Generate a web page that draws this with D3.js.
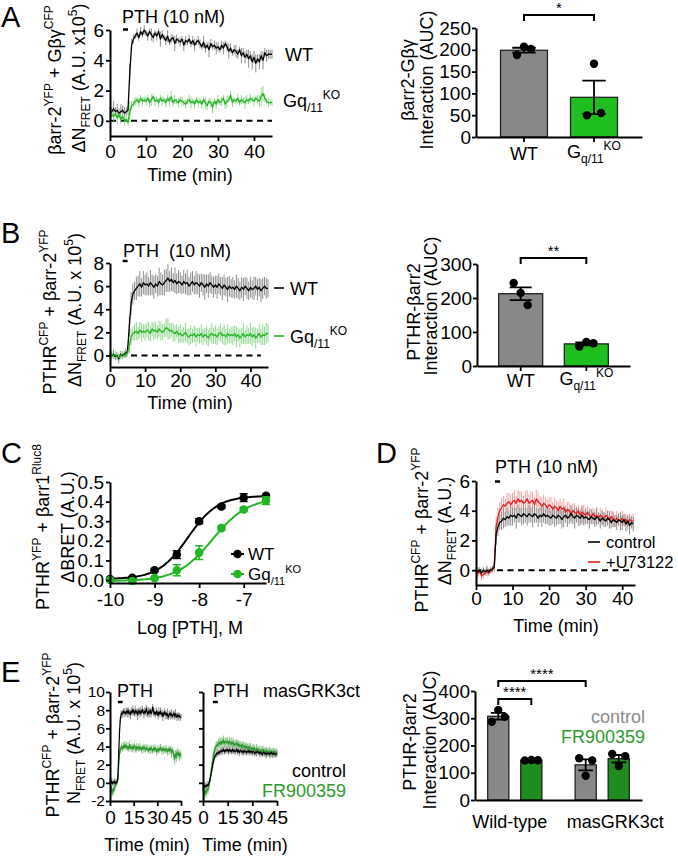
<!DOCTYPE html>
<html><head><meta charset="utf-8">
<script src="https://cdn.jsdelivr.net/npm/d3@7"></script>
<style>
body{margin:0;background:#fff}
svg{display:block;font-family:'Liberation Sans',Arial,Helvetica,sans-serif}
text{white-space:pre}
</style></head><body><svg id="fig" width="678" height="860"></svg>
<script>
// ---------------- DATA ----------------
const STEP = 0.5; // minutes between samples in all kinetic traces

// Panel A: barr-2 / Gbg FRET (x1e5)
const aWT = [
0.5,0.6,0.8,0.6,0.7,0.5,0.6,0.7,0.5,0.6,
0.7,3.2,5.0,5.4,5.6,5.8,5.5,5.9,5.7,6.0,
5.8,5.6,5.9,5.7,5.5,5.8,5.6,5.9,5.4,5.7,
5.5,5.3,5.6,5.2,5.4,5.5,5.1,5.4,5.3,5.2,
5.4,5.0,5.3,5.2,5.4,5.1,5.3,5.0,5.2,5.3,
5.1,4.9,5.2,4.8,5.0,4.7,5.1,4.9,5.0,4.8,
4.9,4.7,5.0,4.8,5.1,4.9,4.6,4.8,4.5,4.7,
4.6,4.4,4.7,4.3,4.5,4.2,4.4,4.1,4.3,3.9,
4.2,3.8,4.1,3.9,4.3,4.0,4.5,4.3,4.4,4.4,
4.4];
const aWTsem = [
0.4,0.3,0.5,0.3,0.4,0.3,0.5,0.3,0.4,0.3,
0.3,0.6,0.4,0.3,0.2,0.3,0.2,0.3,0.2,0.3,
0.2,0.3,0.2,0.4,0.3,0.2,0.3,0.2,0.5,0.3,
0.2,0.3,0.4,0.2,0.3,0.2,0.5,0.3,0.2,0.3,
0.2,0.4,0.3,0.2,0.3,0.2,0.3,0.4,0.2,0.3,
0.3,0.2,0.4,0.3,0.2,0.5,0.3,0.2,0.3,0.4,
0.3,0.2,0.3,0.4,0.2,0.3,0.5,0.3,0.2,0.3,
0.4,0.3,0.2,0.5,0.3,0.4,0.3,0.6,0.3,0.5,
0.4,0.6,0.3,0.5,0.3,0.6,0.3,0.4,0.3,0.3,
0.3];
const aGq = [
0.2,0.4,0.3,0.5,0.2,0.4,0.1,0.3,0.0,0.1,
-0.1,0.6,1.0,1.1,1.3,1.4,1.2,1.5,1.3,1.4,
1.3,1.5,1.2,1.4,1.6,1.3,1.4,1.2,1.5,1.3,
1.4,1.2,1.5,1.3,1.6,1.2,1.4,1.3,1.2,1.4,
1.3,1.2,1.1,1.3,1.4,1.2,1.3,1.1,1.4,1.2,
1.3,1.1,1.4,1.2,1.0,1.3,1.2,0.9,1.3,1.1,
1.4,1.2,1.3,1.5,1.1,1.3,1.4,1.7,1.2,1.4,
1.3,1.5,1.2,1.4,1.3,1.2,1.4,1.3,1.5,1.4,
1.3,1.5,1.4,1.3,1.6,1.8,1.5,1.3,1.2,1.2,
1.2];
const aGqSem = [
0.3,0.2,0.3,0.2,0.4,0.2,0.3,0.2,0.3,0.2,
0.2,0.7,0.3,0.2,0.3,0.2,0.3,0.2,0.3,0.2,
0.3,0.2,0.3,0.4,0.2,0.3,0.2,0.3,0.2,0.3,
0.2,0.3,0.2,0.3,0.4,0.2,0.3,0.2,0.3,0.2,
0.3,0.2,0.3,0.2,0.3,0.4,0.2,0.3,0.2,0.3,
0.2,0.3,0.2,0.4,0.3,0.2,0.3,0.4,0.2,0.3,
0.3,0.2,0.3,0.2,0.3,0.4,0.2,0.3,0.3,0.2,
0.2,0.3,0.2,0.3,0.2,0.4,0.3,0.2,0.3,0.2,
0.3,0.2,0.3,0.4,0.6,0.5,0.3,0.2,0.3,0.2,
0.2];

// Panel B: PTHR / barr-2 FRET (x1e5)
const bWT = [
0.1,0.0,0.1,-0.1,0.0,-0.3,0.1,0.0,0.1,0.2,
0.4,2.5,4.5,5.3,5.6,5.8,6.0,6.2,5.9,6.3,
6.1,6.2,6.0,6.3,6.1,5.9,6.2,6.0,6.4,6.2,
6.1,6.3,6.5,6.7,6.4,6.6,6.3,6.5,6.2,6.4,
6.3,6.1,6.4,6.2,6.3,6.0,6.2,6.4,6.1,6.3,
6.2,6.0,6.3,6.1,5.9,6.2,6.0,6.3,6.1,5.9,
6.1,5.9,6.2,6.0,5.8,6.1,5.9,5.7,6.0,5.8,
5.9,5.7,6.0,5.8,5.6,5.9,5.7,6.0,5.8,5.6,
5.9,5.7,5.8,6.0,5.7,5.9,5.6,5.8,6.0,5.8,
5.8];
const bWTsem = [
0.3,0.3,0.4,0.3,0.3,0.4,0.3,0.3,0.3,0.4,
0.4,0.9,1.0,0.9,0.8,1.0,0.9,1.1,0.8,1.0,
0.9,1.0,0.8,1.1,0.9,1.0,0.8,0.9,1.2,1.0,
0.9,1.1,1.0,1.2,0.9,1.0,0.8,1.1,0.9,1.0,
0.9,0.8,1.0,0.9,1.1,0.8,1.0,0.9,0.8,1.0,
0.9,1.0,0.8,0.9,1.1,0.8,1.0,0.9,0.8,0.9,
0.8,1.0,0.9,0.8,1.0,0.9,0.8,1.1,0.9,0.8,
0.9,0.8,1.0,0.9,0.8,0.9,1.0,0.8,0.9,0.8,
0.9,0.8,1.0,0.8,0.9,0.8,1.0,0.9,0.8,0.9,
0.8];
const bGq = [
0.0,0.1,0.0,0.1,-0.1,-0.2,0.0,0.1,0.0,0.1,
0.2,0.8,1.6,1.9,2.0,2.1,1.9,2.2,2.0,2.1,
2.0,2.2,2.1,1.9,2.3,2.1,2.2,2.0,2.3,2.1,
2.0,2.2,2.4,2.3,2.1,2.2,2.0,1.9,2.1,1.8,
1.9,1.7,1.8,2.0,1.7,1.6,1.8,1.7,1.9,1.6,
1.8,1.7,1.9,1.6,1.8,1.7,1.5,1.8,1.9,1.7,
1.8,1.6,1.9,2.0,1.7,1.8,1.6,1.9,1.7,1.8,
1.7,1.9,1.6,1.8,1.5,1.7,1.9,1.6,1.8,1.7,
1.9,1.6,1.8,1.5,1.7,1.9,1.6,1.8,1.7,1.9,
1.9];
const bGqSem = [
0.3,0.3,0.2,0.3,0.3,0.2,0.3,0.3,0.2,0.3,
0.3,0.6,0.7,0.6,0.7,0.8,0.6,0.7,0.8,0.6,
0.7,0.6,0.8,0.7,0.6,0.8,0.7,0.6,0.7,0.8,
0.7,0.6,0.8,0.9,0.7,0.6,0.8,0.7,0.6,0.7,
0.8,0.6,0.7,0.8,0.6,0.7,0.8,0.6,0.7,0.8,
0.6,0.7,0.8,0.7,0.6,0.8,0.7,0.6,0.9,0.7,
0.8,0.7,0.6,0.8,0.7,0.9,0.7,0.8,0.6,0.7,
0.8,0.7,0.9,0.6,0.8,0.7,0.9,0.6,0.8,0.7,
0.9,0.8,0.7,0.9,0.6,0.8,0.7,0.9,0.8,0.9,
0.8];

// Panel A/B right: AUC bars (individual replicates)
const abCats = ['WT', 'Gq11KO'];
const aAUC = [[188, 207, 202], [50, 168, 55]];
const bAUC = [[244, 215, 179], [57, 71, 67]];

// Panel C: BRET dose-response
const cLogDose = [-10, -9.5, -9, -8.5, -8, -7.5, -7, -6.5];
const cWT    = [0.005, 0.012, 0.05, 0.13, 0.30, 0.375, 0.42, 0.43];
const cWTsem = [0.004, 0.005, 0.006, 0.02, 0.012, 0.008, 0.02, 0.006];
const cGq    = [0.0, -0.005, 0.01, 0.05, 0.14, 0.265, 0.36, 0.405];
const cGqSem = [0.004, 0.004, 0.006, 0.028, 0.035, 0.01, 0.01, 0.02];
// 4-parameter logistic fits [WT, Gq11KO]
const fitBottom = [0.005, -0.005];
const fitTop = [0.43, 0.42];
const fitLogEC50 = [-8.25, -7.7];
const fitHill = [1.3, 1.1];

// Panel D: PTHR / barr-2 FRET, control vs U73122 (0..43 min)
const dCtrl = [
0.0,-0.1,0.0,-0.2,0.0,-0.1,0.0,-0.1,0.0,0.1,
0.2,2.4,2.9,3.2,3.3,3.5,3.4,3.6,3.5,3.7,
3.6,3.7,3.5,3.8,3.7,3.6,3.8,3.7,3.6,3.8,
3.7,3.6,3.8,3.7,3.5,3.7,3.6,3.8,3.6,3.7,
3.6,3.5,3.7,3.6,3.5,3.7,3.6,3.4,3.6,3.7,
3.5,3.6,3.8,3.6,3.5,3.7,3.6,3.5,3.7,3.5,
3.6,3.5,3.4,3.6,3.5,3.4,3.6,3.5,3.3,3.5,
3.4,3.3,3.5,3.4,3.2,3.4,3.3,3.2,3.4,3.3,
3.2,3.4,3.1,3.3,3.0,3.2,3.1];
const dCtrlSem = [
0.2,0.3,0.2,0.3,0.2,0.2,0.3,0.2,0.2,0.2,
0.3,0.7,0.6,0.5,0.6,0.7,0.5,0.6,0.5,0.7,
0.6,0.5,0.7,0.6,0.5,0.6,0.7,0.5,0.6,0.6,
0.5,0.7,0.6,0.5,0.6,0.5,0.7,0.6,0.5,0.6,
0.6,0.5,0.6,0.7,0.5,0.6,0.5,0.6,0.7,0.5,
0.6,0.5,0.6,0.5,0.7,0.5,0.6,0.5,0.6,0.5,
0.5,0.4,0.6,0.5,0.4,0.5,0.6,0.4,0.5,0.5,
0.5,0.4,0.5,0.6,0.4,0.5,0.4,0.5,0.4,0.6,
0.5,0.4,0.5,0.4,0.6,0.4,0.5];
const dU73 = [
-0.1,-0.2,-0.1,-0.4,-0.3,-0.2,-0.1,-0.2,0.0,0.0,
0.3,2.9,3.6,4.0,4.2,4.4,4.3,4.5,4.6,4.4,
4.6,4.7,4.5,4.8,4.6,4.7,4.5,4.6,4.8,4.5,
4.6,4.7,4.4,4.8,4.6,4.5,4.3,4.5,4.4,4.2,
4.4,4.3,4.1,4.3,4.2,4.0,4.3,4.1,4.2,3.9,
4.1,4.0,3.8,4.0,3.9,3.8,4.0,3.7,3.9,3.8,
3.7,3.9,3.7,3.6,3.8,3.6,3.7,3.5,3.7,3.6,
3.5,3.7,3.6,3.4,3.6,3.5,3.3,3.5,3.4,3.3,
3.5,3.3,3.4,3.2,3.4,3.3,3.3];
const dU73Sem = [
0.2,0.3,0.2,0.3,0.3,0.2,0.3,0.2,0.2,0.2,
0.3,0.7,0.6,0.6,0.7,0.6,0.5,0.7,0.6,0.7,
0.6,0.7,0.5,0.6,0.7,0.6,0.5,0.7,0.6,0.6,
0.7,0.6,0.5,0.6,0.7,0.5,0.6,0.6,0.5,0.6,
0.5,0.6,0.5,0.6,0.5,0.6,0.5,0.5,0.6,0.5,
0.5,0.6,0.5,0.5,0.6,0.5,0.4,0.5,0.5,0.6,
0.5,0.4,0.5,0.5,0.4,0.5,0.5,0.4,0.5,0.5,
0.4,0.5,0.4,0.5,0.4,0.5,0.4,0.5,0.4,0.4,
0.5,0.4,0.4,0.5,0.4,0.4,0.5];

// Panel E: PTHR / barr-2 FRET (x1e5), wild-type vs masGRK3ct cells
const eWTctrl = [
0.1,0.0,0.2,-0.1,0.1,0.0,0.2,-0.1,0.0,0.1,
0.6,3.0,5.5,6.9,7.5,7.7,7.6,7.9,7.7,7.8,
7.6,7.9,7.7,8.0,7.6,7.8,7.5,7.9,7.7,8.1,
7.8,7.6,8.0,7.7,7.9,7.5,7.8,8.0,7.6,7.9,
7.7,8.1,7.8,7.6,7.9,7.7,8.2,7.8,7.5,7.9,
7.7,8.0,7.6,7.8,8.3,7.9,7.6,7.8,7.5,7.9,
7.7,7.4,7.8,7.6,7.9,7.5,7.7,7.3,7.6,7.8,
7.5,7.7,7.4,7.6,7.2,7.5,7.7,7.4,7.6,7.3,
7.5,7.7,7.3,7.6,7.4,7.2,7.5,7.3,7.4,7.2,
7.3];
const eWTctrlSem = [
0.3,0.2,0.3,0.2,0.3,0.2,0.3,0.2,0.3,0.2,
0.3,0.6,0.5,0.4,0.4,0.3,0.4,0.3,0.5,0.4,
0.3,0.4,0.5,0.3,0.4,0.3,0.5,0.4,0.3,0.4,
0.4,0.3,0.5,0.4,0.3,0.6,0.4,0.3,0.4,0.5,
0.3,0.4,0.3,0.5,0.4,0.3,0.4,0.6,0.3,0.4,
0.5,0.3,0.4,0.3,0.4,0.5,0.3,0.4,0.3,0.4,
0.3,0.4,0.5,0.3,0.4,0.3,0.4,0.5,0.3,0.4,
0.5,0.3,0.4,0.6,0.3,0.4,0.3,0.4,0.5,0.3,
0.4,0.3,0.4,0.5,0.3,0.4,0.3,0.4,0.3,0.4,
0.3];
const eWTfr = [
0.0,-0.3,-0.8,-1.1,-0.6,-0.9,-0.4,-0.2,0.0,0.1,
0.5,2.0,3.2,3.6,3.8,4.0,3.7,4.1,3.9,4.2,
3.9,4.1,3.8,4.0,3.7,4.2,3.9,3.8,4.0,3.7,
3.9,4.1,3.8,3.6,4.0,3.8,3.9,3.7,4.0,3.8,
3.6,3.9,3.7,4.0,3.8,3.6,3.9,3.7,3.8,3.5,
3.8,3.6,3.9,3.7,3.5,3.8,3.6,3.9,3.7,3.4,
3.7,3.5,3.8,3.6,3.9,3.7,3.5,3.8,3.6,3.7,
3.5,3.8,3.6,3.4,3.7,3.5,3.8,3.6,3.3,3.6,
3.4,3.0,2.6,3.2,2.8,3.4,3.1,3.3,2.9,3.2,
3.0];
const eWTfrSem = [
0.3,0.4,0.5,0.4,0.5,0.4,0.5,0.3,0.4,0.3,
0.4,0.6,0.5,0.4,0.3,0.4,0.3,0.4,0.3,0.4,
0.3,0.4,0.3,0.4,0.3,0.4,0.3,0.4,0.3,0.4,
0.4,0.3,0.4,0.3,0.4,0.3,0.4,0.3,0.4,0.3,
0.4,0.3,0.4,0.3,0.4,0.3,0.4,0.3,0.4,0.3,
0.3,0.4,0.3,0.4,0.3,0.4,0.3,0.4,0.3,0.4,
0.4,0.3,0.4,0.3,0.4,0.3,0.4,0.3,0.4,0.3,
0.3,0.4,0.3,0.4,0.3,0.4,0.3,0.4,0.5,0.4,
0.4,0.5,0.6,0.4,0.5,0.4,0.5,0.4,0.5,0.4,
0.4];
const eMasCtrl = [
-0.3,-0.2,-0.5,-0.3,-0.4,-0.2,-0.3,-0.1,0.2,0.6,
1.1,1.6,2.1,2.5,2.8,3.0,3.1,3.3,3.2,3.4,
3.3,3.5,3.4,3.6,3.5,3.7,3.4,3.6,3.5,3.7,
3.6,3.4,3.7,3.5,3.6,3.4,3.7,3.5,3.6,3.4,
3.5,3.7,3.4,3.6,3.3,3.5,3.6,3.4,3.5,3.3,
3.6,3.4,3.5,3.3,3.5,3.4,3.6,3.3,3.5,3.4,
3.3,3.5,3.4,3.2,3.4,3.3,3.5,3.3,3.4,3.2,
3.4,3.3,3.1,3.3,3.4,3.2,3.3,3.1,3.3,3.2,
3.3,3.1,3.2,3.4,3.2,3.1,3.3,3.2,3.1,3.2,
3.2];
const eMasCtrlSem = [
0.3,0.3,0.4,0.3,0.3,0.4,0.3,0.3,0.4,0.3,
0.4,0.4,0.5,0.4,0.4,0.3,0.3,0.4,0.3,0.3,
0.3,0.4,0.3,0.3,0.4,0.3,0.3,0.4,0.3,0.3,
0.3,0.3,0.4,0.3,0.3,0.3,0.4,0.3,0.3,0.3,
0.4,0.3,0.3,0.3,0.4,0.3,0.3,0.3,0.4,0.3,
0.3,0.3,0.4,0.3,0.3,0.3,0.4,0.3,0.3,0.3,
0.3,0.4,0.3,0.3,0.3,0.4,0.3,0.3,0.3,0.4,
0.3,0.3,0.3,0.4,0.3,0.3,0.3,0.4,0.3,0.3,
0.3,0.4,0.3,0.3,0.3,0.4,0.3,0.3,0.3,0.4,
0.3];
const eMasFr = [
-0.5,-1.0,-1.3,-0.9,-1.1,-0.7,-0.8,-0.4,0.0,0.5,
1.2,1.9,2.6,3.1,3.5,3.8,4.0,4.2,4.1,4.4,
4.3,4.5,4.2,4.6,4.4,4.7,4.3,4.5,4.6,4.4,
4.5,4.3,4.6,4.4,4.2,4.5,4.3,4.4,4.1,4.3,
4.2,4.4,4.1,4.3,4.0,4.2,4.1,3.9,4.2,4.0,
3.9,4.1,3.8,4.0,3.9,3.7,4.0,3.8,3.9,3.6,
3.8,3.6,3.9,3.7,3.5,3.8,3.6,3.7,3.5,3.6,
3.4,3.6,3.5,3.7,3.4,3.5,3.3,3.6,3.4,3.5,
3.3,3.5,3.4,3.2,3.4,3.3,3.5,3.2,3.4,3.3,
3.3];
const eMasFrSem = [
0.4,0.5,0.6,0.5,0.5,0.4,0.5,0.4,0.4,0.4,
0.5,0.5,0.6,0.5,0.5,0.4,0.5,0.4,0.5,0.5,
0.4,0.5,0.5,0.4,0.5,0.5,0.4,0.5,0.4,0.5,
0.5,0.4,0.5,0.5,0.4,0.5,0.4,0.5,0.5,0.4,
0.5,0.4,0.5,0.4,0.5,0.4,0.4,0.5,0.4,0.5,
0.4,0.4,0.5,0.4,0.4,0.5,0.4,0.4,0.5,0.4,
0.4,0.5,0.4,0.4,0.4,0.5,0.4,0.4,0.4,0.5,
0.4,0.4,0.5,0.4,0.4,0.4,0.5,0.4,0.4,0.4,
0.4,0.5,0.4,0.4,0.4,0.5,0.4,0.4,0.4,0.4,
0.4];

// Panel E right: AUC
const eGroups = ['Wild-type', 'masGRK3ct'];
const eConds = ['control', 'FR900359'];
const eAUC = {
  'Wild-type': [[287, 330, 305], [145, 147, 146]],
  'masGRK3ct': [[153, 89, 145], [169, 125, 161]]
};

// ---------------- STYLE ----------------
const FS = 18, TFS = 19;
const C = {
  black:'#000', grayErr:'#8e8e8e',
  green:'#23b523', greenErr:'#92d892',
  dkGreen:'#2c962c', dkGreenErr:'#8cc48c',
  red:'#e51c1c', redErr:'#f3a3a3',
  barGray:'#888888', barGreen:'#1fbf1f', barDkGreen:'#1e8c1e',
  txtGreen:'#2e9a2e', txtGray:'#8a8a8a'
};

const svg = d3.select('#fig');

function rich(x, y, parts, o = {}) {
  const size = o.size || FS;
  const t = svg.append('text').attr('font-size', size).attr('fill', o.fill || '#000')
    .attr('text-anchor', o.anchor || 'start');
  if (o.rotate) t.attr('transform', `translate(${x},${y}) rotate(-90)`);
  else t.attr('x', x).attr('y', y);
  let off = 0;
  parts.forEach(p => {
    const [s, k] = Array.isArray(p) ? p : [p, 'n'];
    const target = k === 'sup' ? -0.42 * size : k === 'sub' ? 0.28 * size : 0;
    t.append('tspan').attr('dy', target - off)
      .attr('font-size', k === 'n' ? size : Math.round(size * 0.66)).text(s);
    off = target;
  });
  return t;
}

function styleAxis(g, fs) {
  g.attr('font-family', null).attr('font-size', fs);
  g.select('.domain').attr('stroke', '#000').attr('stroke-width', 2);
  g.selectAll('.tick line').attr('stroke', '#000').attr('stroke-width', 1.8);
  g.selectAll('.tick text').attr('fill', '#000');
}
function axisX(scale, yPos, ticks, pad, fmt, size = 5) {
  const g = svg.append('g').attr('transform', `translate(0,${yPos})`)
    .call(d3.axisBottom(scale).tickValues(ticks).tickSize(size).tickSizeOuter(0)
      .tickPadding(pad).tickFormat(fmt || (d => String(d))));
  styleAxis(g, TFS);
  return g;
}
function axisY(scale, xPos, ticks, fmt, pad = 2, fs = TFS) {
  const g = svg.append('g').attr('transform', `translate(${xPos},0)`)
    .call(d3.axisLeft(scale).tickValues(ticks).tickSize(4).tickSizeOuter(0)
      .tickPadding(pad).tickFormat(fmt || (d => String(d))));
  styleAxis(g, fs);
  return g;
}
function trace(x, y, vals, sems, col, errCol, lw = 1.3) {
  const pts = vals.map((v, i) => ({ t: i * STEP, v, e: sems[i] }));
  svg.append('g').selectAll('line').data(pts).join('line')
    .attr('x1', d => x(d.t)).attr('x2', d => x(d.t))
    .attr('y1', d => y(d.v - d.e)).attr('y2', d => y(d.v + d.e))
    .attr('stroke', errCol).attr('stroke-width', 1);
  return () => svg.append('path').datum(pts)
    .attr('d', d3.line().x(d => x(d.t)).y(d => y(d.v)))
    .attr('fill', 'none').attr('stroke', col).attr('stroke-width', lw)
    .attr('stroke-linejoin', 'round');
}
function zeroLine(x, y, tEnd) {
  svg.append('line').attr('x1', x(0)).attr('x2', x(tEnd)).attr('y1', y(0)).attr('y2', y(0))
    .attr('stroke', '#000').attr('stroke-width', 2).attr('stroke-dasharray', '6,4.5');
}
function pthBar(x, t0, t1, yPos) {
  svg.append('line').attr('x1', x(t0)).attr('x2', x(t1)).attr('y1', yPos).attr('y2', yPos)
    .attr('stroke', '#000').attr('stroke-width', 2.5);
}
function letter(s, x, y) {
  svg.append('text').attr('x', x).attr('y', y).attr('font-size', 29).text(s);
}
function bracket(x1, x2, yPos, label) {
  svg.append('path').attr('d', `M${x1},${yPos + 6}V${yPos}H${x2}V${yPos + 6}`)
    .attr('fill', 'none').attr('stroke', '#000').attr('stroke-width', 2);
  svg.append('text').attr('x', (x1 + x2) / 2).attr('y', yPos - 2).attr('text-anchor', 'middle')
    .attr('font-size', 15).text(label);
}
const mean = a => d3.mean(a);
const sem = a => d3.deviation(a) / Math.sqrt(a.length);

function barsAndDots(xPos, bw, reps, fill, y, capFrac, jit) {
  const m = mean(reps), s = sem(reps), cx = xPos + bw / 2;
  svg.append('rect').attr('x', xPos).attr('width', bw).attr('y', y(m)).attr('height', y(0) - y(m))
    .attr('fill', fill).attr('stroke', '#222').attr('stroke-width', 1.3);
  const cw = bw * capFrac / 2;
  svg.append('path').attr('d',
    `M${cx},${y(m - s)}V${y(m + s)}M${cx - cw},${y(m + s)}H${cx + cw}M${cx - cw},${y(m - s)}H${cx + cw}`)
    .attr('stroke', '#000').attr('stroke-width', 1.8).attr('fill', 'none');
  svg.append('g').selectAll('circle').data(reps).join('circle')
    .attr('cx', (d, i) => cx + (i - 1) * jit).attr('cy', d => y(d)).attr('r', 4.2).attr('fill', '#000');
}

// ---------------- PANEL A (left) ----------------
{
  const x = d3.scaleLinear().domain([0, 45]).range([110, 272]);
  const y = d3.scaleLinear().domain([-1, 6]).range([136, 30]);
  zeroLine(x, y, 45);
  const l1 = trace(x, y, aWT, aWTsem, C.black, C.grayErr);
  const l2 = trace(x, y, aGq, aGqSem, C.green, C.greenErr);
  l1(); l2();
  axisX(x, 136, [0, 10, 20, 30, 40], 4);
  axisY(y, 110, [0, 2, 4, 6]);
  letter('A', 1, 27);
  rich(122, 23, ['PTH (10 nM)']);
  pthBar(x, 3.6, 5.0, 29.5);
  rich(285, 61, ['WT']);
  rich(283, 107, ['Gq', ['/11', 'sub'], ['KO', 'sup']]);
  rich(190, 181, ['Time (min)'], { anchor: 'middle' });
  rich(61, 80, ['βarr-2', ['YFP', 'sup'], ' + Gβγ', ['CFP', 'sup']], { rotate: true, anchor: 'middle' });
  rich(85, 78, ['ΔN', ['FRET', 'sub'], ' (A.U. x10', ['5', 'sup'], ')'], { rotate: true, anchor: 'middle' });
}

// ---------------- PANEL A (right) ----------------
function gqLabel(cx, yb) {
  rich(cx, yb, ['G', ['q/11', 'sub'], ['KO', 'sup']], { anchor: 'middle' });
}
{
  const x = d3.scaleBand().domain(abCats).range([476, 642]).paddingInner(0.33).paddingOuter(0.35);
  const y = d3.scaleLinear().domain([0, 250]).range([137, 28]);
  const fills = [C.barGray, C.barGreen];
  abCats.forEach((c, i) => barsAndDots(x(c), x.bandwidth(), aAUC[i], fills[i], y, 0.5, 7));
  axisX(x, 137, abCats, 4, () => '');
  axisY(y, 476, [0, 50, 100, 150, 200, 250], null, 1);
  const cxs = abCats.map(c => x(c) + x.bandwidth() / 2);
  rich(cxs[0], 160, ['WT'], { anchor: 'middle' });
  gqLabel(cxs[1], 158);
  bracket(cxs[0], cxs[1], 15, '*');
  rich(414, 80, ['βarr2-Gβγ'], { rotate: true, anchor: 'middle' });
  rich(433, 80, ['Interaction (AUC)'], { rotate: true, anchor: 'middle' });
}

// ---------------- PANEL B (left) ----------------
{
  const x = d3.scaleLinear().domain([0, 45]).range([110, 268]);
  const y = d3.scaleLinear().domain([-1, 8]).range([367, 263]);
  zeroLine(x, y, 43);
  const l1 = trace(x, y, bWT, bWTsem, C.black, C.grayErr);
  const l2 = trace(x, y, bGq, bGqSem, C.green, C.greenErr);
  l1(); l2();
  axisX(x, 367, [0, 10, 20, 30, 40], 2);
  axisY(y, 110, [0, 2, 4, 6, 8]);
  letter('B', 1, 243);
  rich(123, 257, ['PTH  (10 nM)']);
  pthBar(x, 3.6, 5.0, 261);
  svg.append('line').attr('x1', 274).attr('x2', 284).attr('y1', 288).attr('y2', 288).attr('stroke', '#000').attr('stroke-width', 1.6);
  rich(290, 295, ['WT']);
  svg.append('line').attr('x1', 274).attr('x2', 284).attr('y1', 336).attr('y2', 336).attr('stroke', C.green).attr('stroke-width', 1.6);
  rich(290, 343, ['Gq', ['/11', 'sub'], ['KO', 'sup']]);
  rich(190, 409, ['Time (min)'], { anchor: 'middle' });
  rich(56, 312, ['PTHR', ['CFP', 'sup'], ' + βarr-2', ['YFP', 'sup']], { rotate: true, anchor: 'middle' });
  rich(81, 310, ['ΔN', ['FRET', 'sub'], ' (A.U. x 10', ['5', 'sup'], ')'], { rotate: true, anchor: 'middle' });
}

// ---------------- PANEL B (right) ----------------
{
  const x = d3.scaleBand().domain(abCats).range([477, 630]).paddingInner(0.33).paddingOuter(0.33);
  const y = d3.scaleLinear().domain([0, 300]).range([366, 264]);
  const fills = [C.barGray, C.barGreen];
  abCats.forEach((c, i) => barsAndDots(x(c), x.bandwidth(), bAUC[i], fills[i], y, 0.5, 7));
  axisX(x, 366, abCats, 4, () => '');
  axisY(y, 477, [0, 100, 200, 300], null, 1);
  const cxs = abCats.map(c => x(c) + x.bandwidth() / 2);
  rich(cxs[0], 387, ['WT'], { anchor: 'middle' });
  gqLabel(cxs[1], 385);
  bracket(cxs[0], cxs[1], 258, '**');
  rich(420, 312, ['PTHR-βarr2'], { rotate: true, anchor: 'middle' });
  rich(437, 306, ['Interaction (AUC)'], { rotate: true, anchor: 'middle' });
}

// ---------------- PANEL C ----------------
{
  const x = d3.scaleLinear().domain([-10, -6.5]).range([110, 266]);
  const y = d3.scaleLinear().domain([-0.015, 0.5]).range([583, 482]);
  const series = [
    { v: cWT, e: cWTsem, col: C.black },
    { v: cGq, e: cGqSem, col: C.green }
  ];
  series.forEach((s, k) => {
    const fit = lx => fitBottom[k] + (fitTop[k] - fitBottom[k]) / (1 + Math.pow(10, fitHill[k] * (fitLogEC50[k] - lx)));
    const xs = d3.range(-10, -6.5 + 1e-9, 0.05);
    svg.append('path').datum(xs).attr('d', d3.line().x(d => x(d)).y(d => y(fit(d))))
      .attr('fill', 'none').attr('stroke', s.col).attr('stroke-width', 2);
    const pts = cLogDose.map((d, i) => ({ d, v: s.v[i], e: s.e[i] }));
    svg.append('g').selectAll('path').data(pts).join('path')
      .attr('d', p => `M${x(p.d)},${y(p.v - p.e)}V${y(p.v + p.e)}M${x(p.d) - 4},${y(p.v + p.e)}h8M${x(p.d) - 4},${y(p.v - p.e)}h8`)
      .attr('stroke', s.col).attr('stroke-width', 1.5).attr('fill', 'none');
    svg.append('g').selectAll('circle').data(pts).join('circle')
      .attr('cx', p => x(p.d)).attr('cy', p => y(p.v)).attr('r', 4.3).attr('fill', s.col);
  });
  axisX(x, 583, [-10, -9, -8, -7], 5);
  axisY(y, 110, [0, 0.1, 0.2, 0.3, 0.4, 0.5], d3.format('.1f'));
  letter('C', 1, 463);
  [[C.black, 554, ['WT']], [C.green, 574, ['Gq', ['/11', 'sub'], ['KO', 'sup']]]].forEach(([col, yy, lab]) => {
    svg.append('line').attr('x1', 231).attr('x2', 244).attr('y1', yy).attr('y2', yy).attr('stroke', col).attr('stroke-width', 2);
    svg.append('circle').attr('cx', 237.5).attr('cy', yy).attr('r', 4.3).attr('fill', col);
    rich(248, yy + 6, lab, { size: 17 });
  });
  rich(190, 634, ['Log [PTH], M'], { anchor: 'middle' });
  rich(49, 527, ['PTHR', ['YFP', 'sup'], ' + βarr1', ['Rluc8', 'sup']], { rotate: true, anchor: 'middle' });
  rich(74, 527, ['ΔBRET (A.U.)'], { rotate: true, anchor: 'middle' });
}

// ---------------- PANEL D ----------------
{
  const x = d3.scaleLinear().domain([0, 43.5]).range([476, 635]);
  const y = d3.scaleLinear().domain([-1, 6]).range([585, 481]);
  zeroLine(x, y, 42.5);
  const lr = trace(x, y, dU73, dU73Sem, C.red, C.redErr);
  const lb = trace(x, y, dCtrl, dCtrlSem, C.black, C.grayErr);
  lr(); lb();
  axisX(x, 585, [0, 10, 20, 30, 40], 2);
  axisY(y, 476, [0, 2, 4, 6]);
  letter('D', 376, 463);
  rich(495, 473, ['PTH (10 nM)']);
  pthBar(x, 5.2, 6.6, 481.5);
  svg.append('line').attr('x1', 588).attr('x2', 600).attr('y1', 542).attr('y2', 542).attr('stroke', C.black).attr('stroke-width', 1.6);
  rich(606, 548, ['control'], { size: 16.5 });
  svg.append('line').attr('x1', 588).attr('x2', 600).attr('y1', 562).attr('y2', 562).attr('stroke', C.red).attr('stroke-width', 1.6);
  rich(606, 568, ['+U73122'], { size: 16.5 });
  rich(556, 632, ['Time (min)'], { anchor: 'middle' });
  rich(428, 530, ['PTHR', ['CFP', 'sup'], ' + βarr-2', ['YFP', 'sup']], { rotate: true, anchor: 'middle' });
  rich(451, 531, ['ΔN', ['FRET', 'sub'], ' (A.U.)'], { rotate: true, anchor: 'middle' });
}

// ---------------- PANEL E (left, two kinetic plots) ----------------
{
  const y = d3.scaleLinear().domain([-2, 10]).range([801, 692]);
  const xL = d3.scaleLinear().domain([0, 45]).range([110, 181]);
  const xR = d3.scaleLinear().domain([0, 45]).range([203, 277]);
  const g1 = trace(xL, y, eWTfr, eWTfrSem, C.dkGreen, C.dkGreenErr, 1.2);
  const b1 = trace(xL, y, eWTctrl, eWTctrlSem, C.black, C.grayErr, 1.2);
  g1(); b1();
  const g2 = trace(xR, y, eMasFr, eMasFrSem, C.dkGreen, C.dkGreenErr, 1.2);
  const b2 = trace(xR, y, eMasCtrl, eMasCtrlSem, C.black, C.grayErr, 1.2);
  g2(); b2();
  axisX(xL, 801, [0, 15, 30, 45], 5);
  axisX(xR, 801, [0, 15, 30, 45], 5);
  axisY(y, 110, [-2, 0, 2, 4, 6, 8, 10], null, 1, 15.5);
  axisY(y, 203, [-2, 0, 2, 4, 6, 8, 10], () => '');
  letter('E', 1, 682);
  rich(117, 697, ['PTH']);
  pthBar(xL, 5, 8, 702);
  rich(213, 697, ['PTH']);
  pthBar(xR, 6, 9, 702);
  rich(263, 697, ['masGRK3ct']);
  rich(346, 777, ['control'], { anchor: 'end' });
  rich(346, 797, ['FR900359'], { anchor: 'end', fill: C.txtGreen });
  rich(147, 851, ['Time (min)'], { anchor: 'middle' });
  rich(245, 851, ['Time (min)'], { anchor: 'middle' });
  rich(59, 735, ['PTHR', ['CFP', 'sup'], ' + βarr-2', ['YFP', 'sup']], { rotate: true, anchor: 'middle' });
  rich(80, 733, ['N', ['FRET', 'sub'], ' (A.U. x 10', ['5', 'sup'], ')'], { rotate: true, anchor: 'middle' });
}

// ---------------- PANEL E (right, AUC) ----------------
{
  const xg = d3.scaleBand().domain(eGroups).range([475, 642]).paddingInner(0.38).paddingOuter(0.145);
  const xc = d3.scaleBand().domain(eConds).range([0, xg.bandwidth()]).paddingInner(0.36).paddingOuter(0);
  const y = d3.scaleLinear().domain([0, 400]).range([800, 691]);
  const fills = [C.barGray, C.barDkGreen];
  eGroups.forEach(g => eConds.forEach((c, i) =>
    barsAndDots(xg(g) + xc(c), xc.bandwidth(), eAUC[g][i], fills[i], y, 0.7, 6.5)));
  axisX(xg, 800, eGroups, 4, () => '', 0);
  axisY(y, 475, [0, 100, 200, 300, 400], null, 1);
  const labelShift = [-5, 13];
  eGroups.forEach((g, i) => rich(xg(g) + xg.bandwidth() / 2 + labelShift[i], 828, [g], { anchor: 'middle' }));
  const cx = (g, c) => xg(g) + xc(c) + xc.bandwidth() / 2;
  bracket(cx('Wild-type', 'control'), cx('masGRK3ct', 'control'), 681, '****');
  bracket(cx('Wild-type', 'control'), cx('Wild-type', 'FR900359'), 699, '****');
  rich(645, 723, ['control'], { anchor: 'end', fill: C.txtGray });
  rich(645, 743, ['FR900359'], { anchor: 'end', fill: C.txtGreen });
  rich(416, 742, ['PTHR-βarr2'], { rotate: true, anchor: 'middle' });
  rich(436, 740, ['Interaction (AUC)'], { rotate: true, anchor: 'middle' });
}
</script></body></html>
